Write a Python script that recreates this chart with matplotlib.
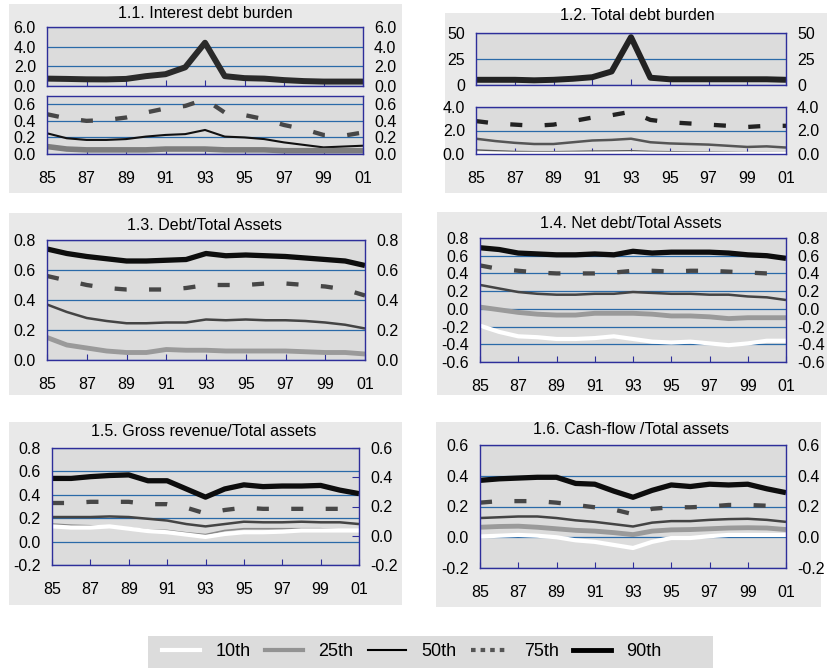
"""Percentile lines of firm financial ratios, 1985-2001, six panels."""

import matplotlib.pyplot as plt
from matplotlib.lines import Line2D
from matplotlib.patches import Rectangle

plt.rcParams["font.family"] = ["Liberation Sans", "DejaVu Sans"]

W, H = 828, 668
SPINE = "#2e2e9a"
GRID = "#2a6aa8"
PANEL_BG = "#e9e9e9"
PLOT_BG = "#dcdcdc"
TICK_FS = 11.5
TITLE_FS = 11.5

years = list(range(1985, 2002))
year_ticks = list(range(1985, 2002, 2))
year_labels = [f"{y % 100:02d}" for y in year_ticks]
pct_names = ["10th", "25th", "50th", "75th", "90th"]

# 1.1 Interest debt burden
idb_90 = [0.75, 0.72, 0.68, 0.67, 0.72, 1.0, 1.2, 1.9, 4.4, 1.0, 0.8, 0.75, 0.6, 0.5, 0.45, 0.45, 0.45]
idb_75 = [0.48, 0.43, 0.40, 0.41, 0.44, 0.50, 0.55, 0.58, 0.66, 0.50, 0.47, 0.42, 0.35, 0.30, 0.23, 0.22, 0.26]
idb_50 = [0.25, 0.19, 0.17, 0.17, 0.18, 0.21, 0.23, 0.24, 0.29, 0.21, 0.20, 0.18, 0.14, 0.11, 0.08, 0.09, 0.10]
idb_25 = [0.09, 0.06, 0.05, 0.05, 0.05, 0.05, 0.06, 0.06, 0.06, 0.05, 0.05, 0.05, 0.04, 0.04, 0.04, 0.04, 0.04]

# 1.2 Total debt burden
tdb_90 = [5, 5, 5, 4.5, 5, 6, 7.5, 13, 46, 7, 5.5, 5.5, 5.5, 5.5, 5.5, 5.5, 5]
tdb_75 = [2.8, 2.6, 2.5, 2.4, 2.5, 2.8, 3.1, 3.3, 3.6, 2.9, 2.7, 2.6, 2.5, 2.4, 2.3, 2.4, 2.4]
tdb_50 = [1.3, 1.1, 0.95, 0.85, 0.85, 1.0, 1.15, 1.2, 1.3, 1.0, 0.9, 0.85, 0.8, 0.7, 0.6, 0.65, 0.55]
tdb_25 = [0.35, 0.28, 0.22, 0.2, 0.2, 0.22, 0.25, 0.26, 0.28, 0.22, 0.2, 0.18, 0.17, 0.15, 0.13, 0.13, 0.12]
tdb_10 = [0.04, 0.03, 0.02, 0.02, 0.02, 0.03, 0.03, 0.03, 0.04, 0.03, 0.02, 0.02, 0.02, 0.02, 0.02, 0.02, 0.02]

# 1.3 Debt/Total Assets
dta_90 = [0.74, 0.71, 0.69, 0.675, 0.66, 0.66, 0.665, 0.67, 0.71, 0.695, 0.70, 0.695, 0.69, 0.68, 0.67, 0.66, 0.63]
dta_75 = [0.56, 0.53, 0.50, 0.48, 0.47, 0.47, 0.47, 0.48, 0.50, 0.50, 0.50, 0.51, 0.51, 0.50, 0.49, 0.47, 0.43]
dta_50 = [0.37, 0.32, 0.28, 0.26, 0.245, 0.245, 0.25, 0.25, 0.27, 0.265, 0.27, 0.265, 0.265, 0.26, 0.25, 0.235, 0.21]
dta_25 = [0.15, 0.10, 0.08, 0.06, 0.05, 0.05, 0.07, 0.065, 0.065, 0.06, 0.06, 0.06, 0.06, 0.055, 0.05, 0.05, 0.04]

# 1.4 Net debt/Total Assets
nda_90 = [0.69, 0.67, 0.63, 0.62, 0.61, 0.61, 0.62, 0.61, 0.65, 0.63, 0.64, 0.64, 0.64, 0.63, 0.61, 0.60, 0.57]
nda_75 = [0.49, 0.45, 0.43, 0.41, 0.40, 0.40, 0.40, 0.41, 0.43, 0.43, 0.42, 0.43, 0.43, 0.42, 0.41, 0.40, 0.40]
nda_50 = [0.27, 0.23, 0.19, 0.17, 0.16, 0.16, 0.17, 0.17, 0.19, 0.18, 0.17, 0.17, 0.16, 0.16, 0.14, 0.13, 0.10]
nda_25 = [0.02, -0.01, -0.04, -0.06, -0.07, -0.07, -0.05, -0.05, -0.05, -0.06, -0.08, -0.08, -0.09, -0.11, -0.10, -0.10, -0.10]
nda_10 = [-0.19, -0.26, -0.31, -0.32, -0.34, -0.34, -0.33, -0.31, -0.34, -0.37, -0.38, -0.37, -0.39, -0.41, -0.39, -0.36, -0.36]

# 1.5 Gross revenue/Total assets
gra_90 = [0.54, 0.54, 0.555, 0.565, 0.57, 0.52, 0.52, 0.45, 0.38, 0.45, 0.485, 0.47, 0.475, 0.475, 0.48, 0.44, 0.41]
gra_75 = [0.33, 0.33, 0.34, 0.34, 0.34, 0.32, 0.32, 0.29, 0.24, 0.27, 0.29, 0.28, 0.28, 0.28, 0.28, 0.28, 0.28]
gra_50 = [0.21, 0.21, 0.21, 0.215, 0.21, 0.195, 0.18, 0.15, 0.13, 0.15, 0.17, 0.165, 0.165, 0.17, 0.165, 0.165, 0.15]
gra_25 = [0.15, 0.14, 0.135, 0.13, 0.115, 0.10, 0.095, 0.075, 0.06, 0.095, 0.11, 0.11, 0.11, 0.11, 0.11, 0.10, 0.095]
gra_10 = [0.13, 0.12, 0.12, 0.13, 0.11, 0.09, 0.08, 0.06, 0.04, 0.065, 0.08, 0.08, 0.085, 0.095, 0.095, 0.095, 0.095]

# 1.6 Cash-flow/Total assets
cfa_90 = [0.37, 0.38, 0.385, 0.39, 0.39, 0.35, 0.345, 0.30, 0.26, 0.305, 0.34, 0.33, 0.345, 0.34, 0.345, 0.315, 0.29]
cfa_75 = [0.225, 0.235, 0.235, 0.235, 0.225, 0.21, 0.195, 0.18, 0.15, 0.185, 0.195, 0.195, 0.20, 0.21, 0.21, 0.205, 0.195]
cfa_50 = [0.125, 0.13, 0.135, 0.135, 0.125, 0.11, 0.10, 0.085, 0.07, 0.095, 0.105, 0.105, 0.113, 0.118, 0.12, 0.113, 0.10]
cfa_25 = [0.065, 0.07, 0.072, 0.065, 0.055, 0.045, 0.04, 0.03, 0.017, 0.04, 0.048, 0.05, 0.055, 0.06, 0.062, 0.06, 0.05]
cfa_10 = [0.005, 0.01, 0.015, 0.01, 0.0, -0.02, -0.03, -0.05, -0.07, -0.03, -0.005, -0.005, 0.007, 0.015, 0.015, 0.015, 0.015]

STYLE = {
    "10th": dict(color="white", lw=3.0),
    "25th": dict(color="#939393", lw=3.0),
    "50th": dict(color="#2e2e2e", lw=1.5),
    "75th": dict(color="#474747", lw=3.1, dashes=(2.8, 5.2)),
    "90th": dict(color="#0d0d0d", lw=3.8),
}


def px_axes(fig, left, top, right, bottom):
    return fig.add_axes([left / W, 1 - bottom / H, (right - left) / W, (bottom - top) / H])


def panel_bg(fig, left, top, right, bottom, color=PANEL_BG):
    fig.patches.append(
        Rectangle((left / W, 1 - bottom / H), (right - left) / W, (bottom - top) / H,
                  transform=fig.transFigure, facecolor=color, edgecolor="none", zorder=-5)
    )


def style_axes(ax, yticks, fmt="{:.1f}", xlabels=True, ylim=None):
    ax.set_facecolor(PLOT_BG)
    ax.set_xlim(1985, 2001)
    ax.set_ylim(ylim if ylim else (yticks[0], yticks[-1]))
    ax.set_yticks(yticks)
    ax.set_yticklabels([fmt.format(v) for v in yticks])
    ax.tick_params(axis="y", length=0, pad=8, labelright=True, labelsize=TICK_FS)
    ax.set_xticks(year_ticks)
    ax.tick_params(axis="x", direction="in", length=4, color=SPINE, pad=12, labelsize=TICK_FS)
    ax.set_xticklabels(year_labels if xlabels else [])
    for s in ax.spines.values():
        s.set_color(SPINE)
        s.set_linewidth(1)
    ax.grid(axis="y", color=GRID, lw=0.9)
    ax.set_axisbelow(True)


def draw(ax, series, override=None):
    override = override or {}
    for name in ["90th", "75th", "50th", "25th", "10th"]:
        if name not in series:
            continue
        st = dict(STYLE[name])
        st.update(override.get(name, {}))
        ax.plot(years, series[name], solid_capstyle="butt", **st)


fig = plt.figure(figsize=(W / 100, H / 100), dpi=100)
fig.patch.set_facecolor("white")

for box in [(9, 4, 402, 193), (445, 13, 828, 193), (9, 213, 402, 395),
            (437, 212, 828, 395), (9, 422, 402, 605), (436, 422, 821, 607)]:
    panel_bg(fig, *box)
panel_bg(fig, 148, 636, 713, 668, color=PLOT_BG)

# 1.1
ax = px_axes(fig, 47, 27, 363, 86)
style_axes(ax, [0, 2, 4, 6], xlabels=False)
draw(ax, {"90th": idb_90}, {"90th": dict(color="#2a2a2a", lw=4.3)})
ax = px_axes(fig, 47, 96, 363, 154)
style_axes(ax, [0, 0.2, 0.4, 0.6], ylim=(0, 0.7))
draw(ax, {"75th": idb_75, "50th": idb_50, "25th": idb_25},
     {"25th": dict(color="#7d7d7d", lw=4), "50th": dict(color="#111111")})
fig.text(205 / W, 1 - 14 / H, "1.1. Interest debt burden", ha="center", va="center", fontsize=TITLE_FS)

# 1.2
ax = px_axes(fig, 476, 33, 786, 85)
style_axes(ax, [0, 25, 50], fmt="{:.0f}", xlabels=False)
draw(ax, {"90th": tdb_90}, {"90th": dict(color="#222222", lw=4.3)})
ax = px_axes(fig, 476, 107, 786, 154)
style_axes(ax, [0, 2, 4])
draw(ax, {"75th": tdb_75, "50th": tdb_50, "25th": tdb_25, "10th": tdb_10},
     {"75th": dict(color="#222222"), "50th": dict(color="#555555", lw=1.8),
      "25th": dict(color="#555555", lw=1.0)})
fig.text(637 / W, 1 - 15 / H, "1.2. Total debt burden", ha="center", va="center", fontsize=TITLE_FS)

# 1.3
ax = px_axes(fig, 47, 240, 365, 360)
style_axes(ax, [0, 0.2, 0.4, 0.6, 0.8])
draw(ax, {"90th": dta_90, "75th": dta_75, "50th": dta_50, "25th": dta_25},
     {"50th": dict(color="#444444", lw=1.8), "25th": dict(color="#9a9a9a", lw=3.5)})
fig.text(205 / W, 1 - 226 / H, "1.3. Debt/Total Assets", ha="center", va="center", fontsize=TITLE_FS)

# 1.4
ax = px_axes(fig, 480, 238, 786, 362)
style_axes(ax, [-0.6, -0.4, -0.2, 0.0, 0.2, 0.4, 0.6, 0.8])
draw(ax, {"90th": nda_90, "75th": nda_75, "50th": nda_50, "25th": nda_25, "10th": nda_10},
     {"50th": dict(color="#444444", lw=1.8), "25th": dict(color="#9a9a9a", lw=3.5)})
fig.text(631 / W, 1 - 224 / H, "1.4. Net debt/Total Assets", ha="center", va="center", fontsize=TITLE_FS)

# 1.5
ax = px_axes(fig, 52, 448, 359, 565)
style_axes(ax, [-0.2, 0.0, 0.2, 0.4, 0.6, 0.8])
ax.tick_params(axis="y", labelright=False)
draw(ax, {"90th": gra_90, "75th": gra_75, "50th": gra_50, "25th": gra_25, "10th": gra_10},
     {"50th": dict(color="#444444", lw=1.8), "25th": dict(color="#8a8a8a", lw=1.2)})
ax2 = ax.twinx()
ax2.set_ylim(-0.2, 0.6)
r_ticks = [-0.2, 0.0, 0.2, 0.4, 0.6]
ax2.set_yticks(r_ticks)
ax2.set_yticklabels([f"{v:.1f}" for v in r_ticks])
ax2.tick_params(axis="y", direction="in", length=5, color=SPINE, pad=8, labelsize=TICK_FS)
for s in ax2.spines.values():
    s.set_visible(False)
fig.text(204 / W, 1 - 432 / H, "1.5. Gross revenue/Total assets", ha="center", va="center", fontsize=TITLE_FS)

# 1.6
ax = px_axes(fig, 480, 445, 786, 568)
style_axes(ax, [-0.2, 0.0, 0.2, 0.4, 0.6])
draw(ax, {"90th": cfa_90, "75th": cfa_75, "50th": cfa_50, "25th": cfa_25, "10th": cfa_10},
     {"50th": dict(color="#444444", lw=1.8), "25th": dict(color="#9a9a9a", lw=3.5)})
fig.text(631 / W, 1 - 430 / H, "1.6. Cash-flow /Total assets", ha="center", va="center", fontsize=TITLE_FS)

# legend
handles = [
    Line2D([], [], color="white", lw=3),
    Line2D([], [], color="#939393", lw=3),
    Line2D([], [], color="black", lw=1.5),
    Line2D([], [], color="#555555", lw=3, dashes=(1.1, 1.2)),
    Line2D([], [], color="black", lw=3.5),
]
fig.legend(handles, pct_names, loc="center", bbox_to_anchor=(412 / W, 1 - 652 / H),
           ncol=5, frameon=False, fontsize=13, handlelength=2.1, handletextpad=0.85,
           columnspacing=0.8)

fig.savefig("out.png", dpi=100)
